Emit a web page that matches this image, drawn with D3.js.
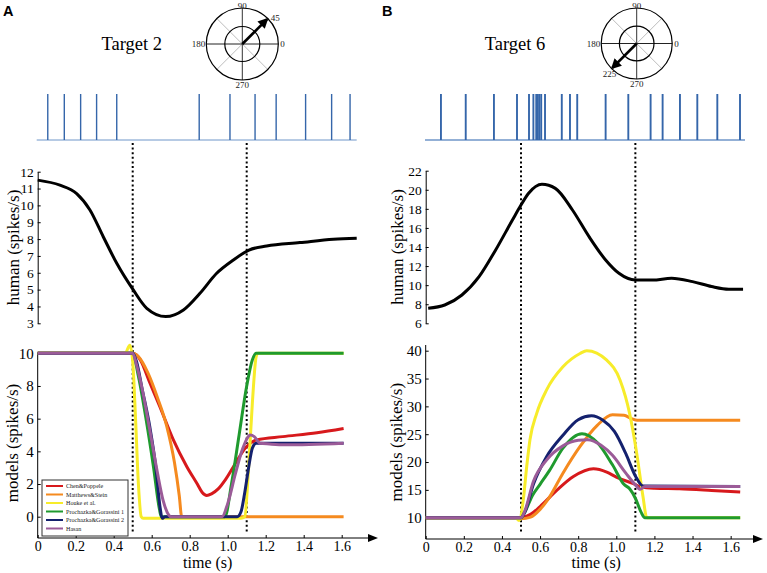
<!DOCTYPE html>
<html><head><meta charset="utf-8">
<script src="https://cdn.jsdelivr.net/npm/d3@7"></script>
<style>body{margin:0;background:#fff}svg{display:block}</style>
</head><body>
<svg id="c" width="767" height="573"></svg>
<script>
// ---------------- DATA ----------------
const panelLabels = ["A", "B"];
const targetTitles = ["Target 2", "Target 6"];
const targetAngles = [45, 225];
const polarTickLabels = ["0", "90", "180", "270"];
const eventTimes = [0.5, 1.1];

const spikeTimesA = [0.053, 0.14, 0.226, 0.31, 0.416, 0.85, 1.012, 1.144, 1.255, 1.41, 1.547, 1.644];
const spikeTimesB = [0.08, 0.21, 0.358, 0.479, 0.542, 0.565, 0.58, 0.588, 0.596, 0.606, 0.626,
  0.714, 0.757, 0.795, 0.944, 1.063, 1.18, 1.243, 1.334, 1.425, 1.53, 1.649];

const humanA_t = [0, 0.117, 0.205, 0.275, 0.345, 0.416, 0.503, 0.574, 0.674, 0.767, 0.854, 0.942, 1.03, 1.112, 1.205, 1.38, 1.556, 1.679];
const humanA_v = [11.5, 11.2, 10.7, 9.73, 8.14, 6.56, 4.98, 3.89, 3.4, 3.79, 4.78, 5.97, 6.76, 7.35, 7.59, 7.79, 7.99, 8.05];
const humanB_t = [0.013, 0.1, 0.19, 0.28, 0.367, 0.455, 0.5, 0.54, 0.61, 0.68, 0.77, 0.857, 0.944, 1.014, 1.1, 1.19, 1.29, 1.4, 1.5, 1.59, 1.665];
const humanB_v = [7.58, 7.92, 8.97, 10.89, 13.69, 16.83, 18.4, 19.63, 20.57, 20.15, 17.88, 15.08, 12.64, 11.24, 10.54, 10.54, 10.72, 10.37, 9.85, 9.57, 9.57];

const modelNames = ["Chen&Poppele", "Matthews&Stein", "Houke et al.", "Prochazka&Gorassini 1", "Prochazka&Gorassini 2", "Hasan"];
const modelColors = ["#d7191c", "#f58a1f", "#f7ec2a", "#1f9a2e", "#14216e", "#9b5b98"];

// Target 2 model outputs (time s, rate spikes/s)
const chenA_t = [0, 0.5, 0.54, 0.59, 0.644, 0.714, 0.785, 0.84, 0.865, 0.89, 0.915, 0.95, 0.99, 1.03, 1.1, 1.153, 1.29, 1.47, 1.61];
const chenA_v = [10, 10, 9.6, 8.2, 6.7, 4.7, 3.06, 2.0, 1.5, 1.3, 1.4, 1.7, 2.3, 3.06, 4.3, 4.7, 4.9, 5.14, 5.4];
const matA_t = [0, 0.5, 0.53, 0.58, 0.63, 0.68, 0.72, 0.745, 0.758, 1.61];
const matA_v = [10, 10, 9.8, 8.8, 7.3, 5.5, 3.3, 1.3, 0, 0];
const houkA_t = [0, 0.46, 0.485, 0.5, 0.515, 0.53, 0.545, 0.555, 1.07, 1.09, 1.11, 1.13, 1.15, 1.16, 1.61];
const houkA_v = [10, 10, 10.5, 9.5, 6, 2, 0, -0.1, -0.1, 0, 3, 7, 9.8, 10, 10];
const proc1A_t = [0, 0.5, 0.53, 0.57, 0.61, 0.64, 0.65, 0.985, 1.02, 1.06, 1.1, 1.13, 1.15, 1.61];
const proc1A_v = [10, 10, 8.6, 6, 3, 0.5, 0, 0, 2, 5, 8, 9.6, 10, 10];
const proc2A_t = [0, 0.5, 0.52, 0.55, 0.59, 0.62, 0.645, 0.655, 0.67, 1.05, 1.07, 1.09, 1.11, 1.13, 1.15, 1.61];
const proc2A_v = [10, 10, 9.5, 7.8, 5.5, 3.2, 0.5, -0.1, 0, 0, 0.3, 1.5, 3, 4.2, 4.5, 4.5];
const hasanA_t = [0, 0.5, 0.52, 0.55, 0.59, 0.63, 0.66, 0.69, 0.7, 0.97, 1.0, 1.04, 1.08, 1.12, 1.14, 1.17, 1.22, 1.3, 1.61];
const hasanA_v = [10, 10, 9.3, 7.8, 5.3, 2.7, 1, 0.1, 0, 0, 0.8, 2.6, 4.2, 5.0, 4.9, 4.5, 4.45, 4.4, 4.5];

// Target 6 model outputs
const chenB_t = [0, 0.5, 0.55, 0.6, 0.69, 0.775, 0.88, 0.95, 1.0, 1.09, 1.13, 1.2, 1.33, 1.5, 1.65];
const chenB_v = [10, 10, 10.6, 12, 15, 17.4, 18.8, 18.2, 17.3, 16.1, 15.5, 15.3, 15.2, 14.9, 14.6];
const matB_t = [0, 0.47, 0.5, 0.55, 0.6, 0.64, 0.72, 0.81, 0.9, 0.98, 1.04, 1.08, 1.11, 1.65];
const matB_v = [10, 10, 9.8, 10.1, 11.5, 13.2, 18, 22.8, 26.6, 28.5, 28.4, 27.8, 27.5, 27.5];
const houkB_t = [0, 0.47, 0.49, 0.512, 0.53, 0.547, 0.582, 0.635, 0.72, 0.81, 0.845, 0.95, 1.02, 1.07, 1.107, 1.14, 1.16, 1.65];
const houkB_v = [10, 10, 9.5, 13.2, 19.2, 24, 28.7, 33, 37.1, 39.5, 40, 38.3, 34.7, 28.7, 21.6, 13.8, 10, 10];
const proc1B_t = [0, 0.5, 0.52, 0.56, 0.6, 0.65, 0.72, 0.82, 0.9, 0.98, 1.04, 1.07, 1.1, 1.13, 1.15, 1.65];
const proc1B_v = [10, 10, 11, 14, 16, 18.5, 22.5, 25.1, 23.5, 19.5, 16, 15.2, 13.5, 11, 10, 10];
const proc2B_t = [0, 0.5, 0.52, 0.565, 0.635, 0.72, 0.8, 0.87, 0.93, 0.99, 1.05, 1.1, 1.14, 1.65];
const proc2B_v = [10, 10, 11, 16, 21, 24.8, 27.6, 28.3, 27.5, 25.5, 21.5, 17.5, 15.7, 15.6];
const hasanB_t = [0, 0.5, 0.52, 0.565, 0.635, 0.72, 0.8, 0.85, 0.92, 0.98, 1.05, 1.1, 1.125, 1.15, 1.65];
const hasanB_v = [10, 10, 11.2, 16.5, 20.4, 22.9, 23.9, 24, 23, 21.2, 18, 15.9, 15.1, 15.6, 15.6];

const timeTicks = [0, 0.2, 0.4, 0.6, 0.8, 1.0, 1.2, 1.4, 1.6];
const timeTickLabels = ["0", "0.2", "0.4", "0.6", "0.8", "1.0", "1.2", "1.4", "1.6"];
const humanTicksA = [3, 4, 5, 6, 7, 8, 9, 10, 11, 12];
const humanTicksB = [6, 8, 10, 12, 14, 16, 18, 20, 22];
const modelTicksA = [0, 2, 4, 6, 8, 10];
const modelTicksB = [10, 15, 20, 25, 30, 35, 40];

// ---------------- DRAW ----------------
const svg = d3.select("#c");
const serif = "'Liberation Serif','Times New Roman',serif";
const zip = (t, v) => t.map((d, i) => [d, v[i]]);

svg.append("defs").append("marker").attr("id", "polarArrow")
  .attr("viewBox", "0 0 10 10").attr("refX", 8).attr("refY", 5)
  .attr("markerWidth", 4).attr("markerHeight", 4).attr("orient", "auto")
  .append("path").attr("d", "M0,0L10,5L0,10z").attr("fill", "#000");

const panels = [
  { label: panelLabels[0], title: targetTitles[0], angle: targetAngles[0], spikes: spikeTimesA,
    human: zip(humanA_t, humanA_v), humanTicks: humanTicksA, humanDom: [3, 12],
    models: [zip(chenA_t, chenA_v), zip(matA_t, matA_v), zip(houkA_t, houkA_v), zip(proc1A_t, proc1A_v), zip(proc2A_t, proc2A_v), zip(hasanA_t, hasanA_v)],
    modelTicks: modelTicksA, modelDom: [0, 10], legend: true,
    x0: 37.7, pxPerS: 190, labelX: 3, titleX: 131.7,
    polar: { cx: 242.3, cy: 44, r: 36, r2: 17.5 },
    spikeW: 1.4, spikeBaseW: 1, spikeX: [36.7, 356.7],
    humanY: [323.3, 171.7], modelY: [516.7, 353.3], modelAxisTop: 352.7, xAxisY: 538, axisEnd: 378, axisLabelX: 13 },
  { label: panelLabels[1], title: targetTitles[1], angle: targetAngles[1], spikes: spikeTimesB,
    human: zip(humanB_t, humanB_v), humanTicks: humanTicksB, humanDom: [6, 22],
    models: [zip(chenB_t, chenB_v), zip(matB_t, matB_v), zip(houkB_t, houkB_v), zip(proc1B_t, proc1B_v), zip(proc2B_t, proc2B_v), zip(hasanB_t, hasanB_v)],
    modelTicks: modelTicksB, modelDom: [10, 40], legend: false,
    x0: 425.7, pxPerS: 190.6, labelX: 382, titleX: 515,
    polar: { cx: 636.7, cy: 43.5, r: 35.5, r2: 17.3 },
    spikeW: 1.9, spikeBaseW: 1.6, spikeX: [425, 745],
    humanY: [323.3, 170.7], modelY: [517.7, 350.7], modelAxisTop: 345, xAxisY: 539, axisEnd: 763, axisLabelX: 397 }
];

panels.forEach(P => {
  const g = svg.append("g");
  const x = d3.scaleLinear().domain([0, 1]).range([P.x0, P.x0 + P.pxPerS]);

  // panel letter
  g.append("text").attr("x", P.labelX).attr("y", 16).text(P.label)
    .attr("font-family", "'Liberation Sans',Arial,sans-serif").attr("font-weight", "bold").attr("font-size", 14.5);
  // title
  g.append("text").attr("x", P.titleX).attr("y", 50).attr("text-anchor", "middle").text(P.title)
    .attr("font-family", serif).attr("font-size", 18.5);

  // polar
  const p = P.polar;
  const pg = g.append("g").attr("transform", `translate(${p.cx},${p.cy})`);
  [45, 135].forEach(a => {
    const rad = a * Math.PI / 180;
    pg.append("line").attr("x1", -p.r * Math.cos(rad)).attr("y1", p.r * Math.sin(rad))
      .attr("x2", p.r * Math.cos(rad)).attr("y2", -p.r * Math.sin(rad))
      .attr("stroke", "#bdbdbd").attr("stroke-width", 1);
  });
  pg.append("line").attr("x1", -p.r).attr("x2", p.r).attr("y1", 0).attr("y2", 0).attr("stroke", "#222").attr("stroke-width", 1);
  pg.append("line").attr("y1", -p.r).attr("y2", p.r).attr("x1", 0).attr("x2", 0).attr("stroke", "#333").attr("stroke-width", 1);
  [p.r, p.r2].forEach(r => pg.append("circle").attr("r", r).attr("fill", "none").attr("stroke", "#000").attr("stroke-width", 1.2));
  const ar = P.angle * Math.PI / 180;
  const tip = [p.r * Math.cos(ar), -p.r * Math.sin(ar)];
  pg.append("line").attr("x1", 0).attr("y1", 0).attr("x2", tip[0] * 0.97).attr("y2", tip[1] * 0.97)
    .attr("stroke", "#000").attr("stroke-width", 2.6).attr("marker-end", "url(#polarArrow)");
  const pl = pg.append("g").attr("font-family", serif).attr("font-size", 9).attr("fill", "#222");
  pl.append("text").attr("x", p.r + 2).attr("y", 3).text(polarTickLabels[0]);
  pl.append("text").attr("x", 0).attr("y", -p.r + 0.5).attr("text-anchor", "middle").text(polarTickLabels[1]);
  pl.append("text").attr("x", -p.r - 1).attr("y", 3).attr("text-anchor", "end").text(polarTickLabels[2]);
  pl.append("text").attr("x", 0).attr("y", p.r + 8).attr("text-anchor", "middle").text(polarTickLabels[3]);
  if (P.angle < 180) {
    pl.append("text").attr("x", tip[0] + 3).attr("y", tip[1] + 2).text(String(P.angle));
  } else {
    pl.append("text").attr("x", tip[0] - 2).attr("y", tip[1] + 8).attr("text-anchor", "middle").text(String(P.angle));
  }

  // spike train
  const spikeCol = "#3566aa";
  g.append("line").attr("x1", P.spikeX[0]).attr("x2", P.spikeX[1]).attr("y1", 140).attr("y2", 140)
    .attr("stroke", "#6f96c9").attr("stroke-width", P.spikeBaseW);
  g.selectAll(null).data(P.spikes).enter().append("line")
    .attr("x1", d => x(d)).attr("x2", d => x(d)).attr("y1", 140).attr("y2", 94)
    .attr("stroke", spikeCol).attr("stroke-width", P.spikeW);

  // event dotted lines
  g.selectAll(null).data(eventTimes).enter().append("line")
    .attr("x1", d => x(d)).attr("x2", d => x(d)).attr("y1", 143).attr("y2", 534)
    .attr("stroke", "#000").attr("stroke-width", 2).attr("stroke-dasharray", "2,2.6");

  // human panel
  const yh = d3.scaleLinear().domain(P.humanDom).range(P.humanY);
  const ah = g.append("g").attr("transform", `translate(${P.x0},0)`)
    .call(d3.axisLeft(yh).tickValues(P.humanTicks).tickSize(-3).tickPadding(4).tickSizeOuter(0));
  ah.select(".domain").attr("stroke", "#000");
  ah.selectAll("text").attr("font-family", serif).attr("font-size", 13.5).attr("fill", "#000");
  g.append("path").datum(P.human)
    .attr("d", d3.line().x(d => x(d[0])).y(d => yh(d[1])).curve(d3.curveMonotoneX))
    .attr("fill", "none").attr("stroke", "#000").attr("stroke-width", 3);
  g.append("text").attr("transform", `translate(${P.axisLabelX},${(P.humanY[0] + P.humanY[1]) / 2}) rotate(-90)`)
    .attr("text-anchor", "middle").attr("dy", "0.35em").text("human (spikes/s)")
    .attr("font-family", serif).attr("font-size", 17);

  // model panel
  const ym = d3.scaleLinear().domain(P.modelDom).range(P.modelY);
  g.append("line").attr("x1", P.x0).attr("x2", P.x0).attr("y1", P.modelAxisTop).attr("y2", P.xAxisY).attr("stroke", "#000");
  const am = g.append("g").attr("transform", `translate(${P.x0},0)`)
    .call(d3.axisLeft(ym).tickValues(P.modelTicks).tickSize(-3).tickPadding(4).tickSizeOuter(0));
  am.select(".domain").remove();
  am.selectAll("text").attr("font-family", serif).attr("font-size", 15).attr("fill", "#000");
  // x axis
  g.append("line").attr("x1", P.x0).attr("x2", P.axisEnd - 6).attr("y1", P.xAxisY).attr("y2", P.xAxisY).attr("stroke", "#000");
  g.append("path").attr("d", `M${P.axisEnd},${P.xAxisY}L${P.axisEnd - 10},${P.xAxisY - 4}L${P.axisEnd - 10},${P.xAxisY + 4}Z`).attr("fill", "#000");
  const ax = g.append("g").attr("transform", `translate(0,${P.xAxisY})`)
    .call(d3.axisBottom(x).tickValues(timeTicks).tickFormat((d, i) => timeTickLabels[i]).tickSize(-3).tickPadding(3).tickSizeOuter(0));
  ax.select(".domain").remove();
  ax.selectAll("text").attr("font-family", serif).attr("font-size", 14).attr("fill", "#000");
  g.append("text").attr("x", P.x0 + 0.895 * P.pxPerS).attr("y", 568).attr("text-anchor", "middle").text("time (s)")
    .attr("font-family", serif).attr("font-size", 16);
  g.append("text").attr("transform", `translate(${P.axisLabelX - 1},${(P.modelY[0] + P.modelY[1]) / 2 + 8}) rotate(-90)`)
    .attr("text-anchor", "middle").attr("dy", "0.35em").text("models (spikes/s)")
    .attr("font-family", serif).attr("font-size", 17);

  const mline = d3.line().x(d => x(d[0])).y(d => ym(d[1])).curve(d3.curveMonotoneX);
  g.selectAll(null).data(P.models).enter().append("path")
    .attr("d", mline).attr("fill", "none")
    .attr("stroke", (d, i) => modelColors[i]).attr("stroke-width", 3).attr("stroke-linejoin", "round");

  if (P.legend) {
    const lg = g.append("g").attr("transform", "translate(42,480)");
    lg.append("rect").attr("width", 86).attr("height", 56).attr("fill", "#fff").attr("stroke", "#333").attr("stroke-width", 1);
    modelNames.forEach((n, i) => {
      const yy = 6 + i * 8.5;
      lg.append("line").attr("x1", 4).attr("x2", 21).attr("y1", yy).attr("y2", yy)
        .attr("stroke", modelColors[i]).attr("stroke-width", 2);
      lg.append("text").attr("x", 24).attr("y", yy + 2.2).text(n)
        .attr("font-family", serif).attr("font-size", 6.1).attr("fill", "#222");
    });
  }
});
</script>
</body></html>
